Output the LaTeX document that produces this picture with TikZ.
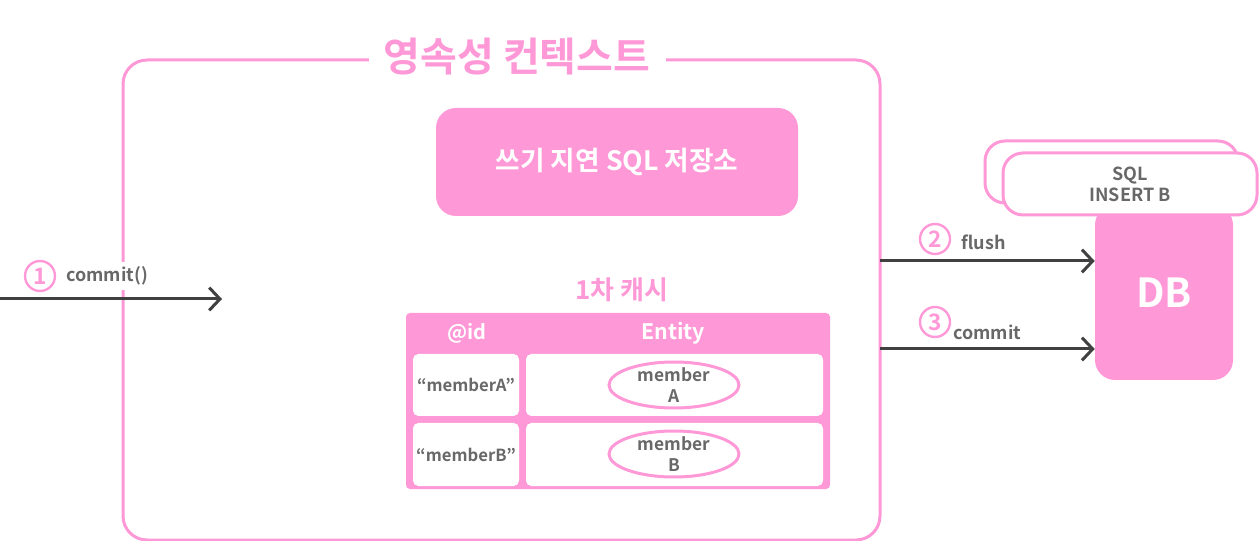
\documentclass[tikz,border=0pt]{standalone}
\usepackage{fontspec}
\setmainfont{Noto Sans CJK KR}[BoldFont={Noto Sans CJK KR Bold}]
\usetikzlibrary{shapes.geometric}
\usetikzlibrary{arrows.meta}
\definecolor{pinky}{RGB}{255,152,214}
\definecolor{txtgray}{RGB}{104,104,104}
\definecolor{arrgray}{RGB}{64,64,64}

\begin{document}
\begin{tikzpicture}[x=0.75pt,y=-0.75pt,every node/.style={font=\bfseries,inner sep=0pt},
  pinkbox/.style={draw=pinky,line width=2.25pt,fill=white,rounded corners=15pt},
  solidbox/.style={fill=pinky,rounded corners=15pt},
  cell/.style={fill=white,rounded corners=4pt},
  num/.style={circle,draw=pinky,line width=1.8pt,minimum size=22.5pt,text=pinky,font=\bfseries\fontsize{17}{17}\selectfont},
  lbl/.style={anchor=west,text=txtgray,font=\bfseries\fontsize{13.5}{13.5}\selectfont},
  flow/.style={draw=arrgray,line width=2.25pt,-{Straight Barb[length=8pt,width=17pt]}}]
\useasboundingbox (0,0) rectangle (1260,541);
\node[pinkbox,rounded corners=18pt,minimum width=567.75pt,minimum height=360pt] (ctx) at (501.5,300) {};
\node[fill=white,minimum width=222.75pt,minimum height=30pt,text=pinky,font=\bfseries\fontsize{30}{30}\selectfont] (title) at (517,57) {영속성 컨텍스트};
\node[solidbox,minimum width=271.5pt,minimum height=81pt,text=white,font=\bfseries\fontsize{20}{20}\selectfont] (store) at (617,162) {쓰기 지연 SQL 저장소};
\node[text=pinky,font=\bfseries\fontsize{19.5}{19.5}\selectfont] (cache) at (622,290) {1차 캐시};
\node[fill=pinky,rounded corners=3pt,minimum width=318pt,minimum height=132pt] (table) at (618,401) {};
\node[text=white,font=\bfseries\fontsize{15}{15}\selectfont] (hid) at (467,333) {@id};
\node[text=white,font=\bfseries\fontsize{16}{16}\selectfont] (hent) at (673,333) {Entity};
\node[cell,minimum width=79.5pt,minimum height=46.5pt,text=txtgray,font=\bfseries\fontsize{12.5}{12.5}\selectfont] (ida) at (466,385) {“memberA”};
\node[cell,minimum width=222.75pt,minimum height=46.5pt] (enta) at (674.5,385) {};
\node[cell,minimum width=79.5pt,minimum height=47.25pt,text=txtgray,font=\bfseries\fontsize{12.5}{12.5}\selectfont] (idb) at (466,454.5) {“memberB”};
\node[cell,minimum width=222.75pt,minimum height=47.25pt] (entb) at (674.5,454.5) {};
\node[ellipse,draw=pinky,line width=2.25pt,fill=white,minimum width=97.5pt,minimum height=34.5pt] (mema) at (674,385) {};
\node[align=center,text=txtgray,font=\bfseries\fontsize{13}{15.75}\selectfont] at (mema) {member\\A};
\node[ellipse,draw=pinky,line width=2.25pt,fill=white,minimum width=97.5pt,minimum height=34.5pt] (memb) at (674,454) {};
\node[align=center,text=txtgray,font=\bfseries\fontsize{13}{15.75}\selectfont] at (memb) {member\\B};
\node[solidbox,minimum width=103.5pt,minimum height=131.25pt,text=white,font=\bfseries\fontsize{30}{30}\selectfont] (db) at (1164,292.5) {DB};
\node[pinkbox,minimum width=189.75pt,minimum height=46.5pt] (sqlback) at (1111.5,172) {};
\node[pinkbox,minimum width=190.5pt,minimum height=46.5pt,align=center,text=txtgray,font=\bfseries\fontsize{13.5}{15.75}\selectfont] (sql) at (1130,184) {SQL\\INSERT B};
\coordinate (s1) at (0,299);
\coordinate (e1) at (222,299);
\coordinate (s2) at (880,261);
\coordinate (s3) at (880,349);
\draw[flow] (s1) -- (e1);
\draw[flow] (s2) -- (s2 -| db.west);
\draw[flow] (s3) -- (s3 -| db.west);
\node[num] (n1) at (40,276) {1};
\node[lbl,fill=white,minimum height=21pt] (commit1) at (66,276) {commit()};
\node[num] (n2) at (935,239) {2};
\node[lbl] (flush) at (961,242) {flush};
\node[num] (n3) at (935,322) {3};
\node[lbl] (commit3) at (953,332) {commit};
\end{tikzpicture}
\end{document}
